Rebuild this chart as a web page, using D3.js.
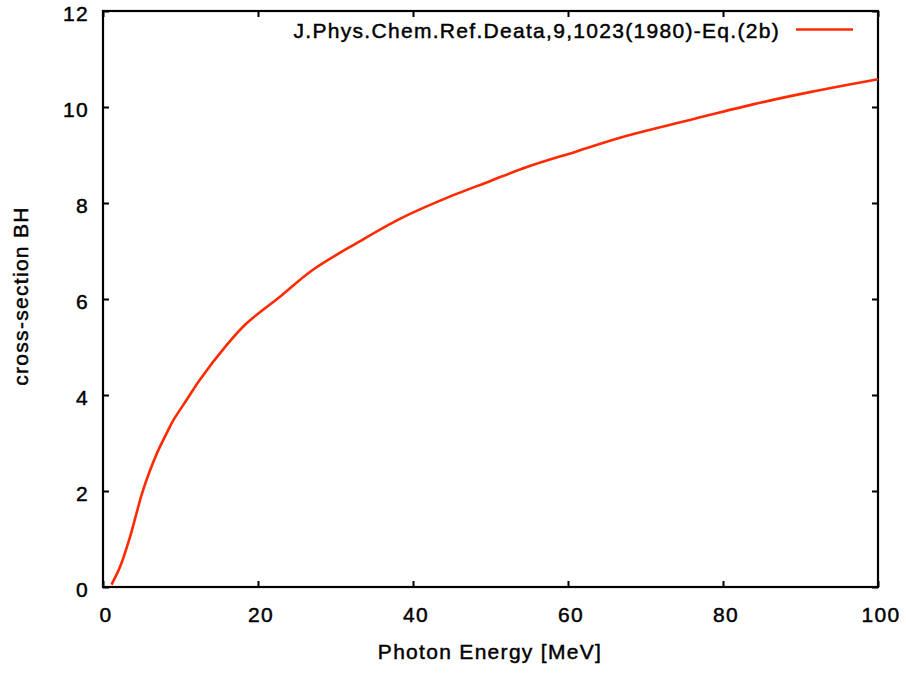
<!DOCTYPE html>
<html>
<head>
<meta charset="utf-8">
<script src="https://cdn.jsdelivr.net/npm/d3@7"></script>
<style>
  html, body { margin: 0; padding: 0; background: #fff; }
  svg { display: block; }
  text { font-family: "Liberation Sans", Arial, sans-serif; fill: #000; letter-spacing: 1.3px; }
</style>
</head>
<body>
<svg id="chart" width="906" height="673"></svg>
<script>
// Data
const energy = [1.1, 2.2, 3.5, 4.2, 5, 6, 7, 8.2, 9.1, 10.8, 12.5, 16, 18.5, 23, 27, 33, 38.3, 43.5, 50, 54.7, 61, 67.6, 76.2, 84, 91.2, 100];
const crossSection = [0.05, 0.42, 1.05, 1.46, 1.93, 2.4, 2.8, 3.2, 3.48, 3.9, 4.32, 5.05, 5.49, 6.07, 6.6, 7.19, 7.67, 8.05, 8.46, 8.75, 9.07, 9.4, 9.75, 10.06, 10.31, 10.58];
const xTicks = [0, 20, 40, 60, 80, 100];
const yTicks = [0, 2, 4, 6, 8, 10, 12];
const seriesName = "J.Phys.Chem.Ref.Deata,9,1023(1980)-Eq.(2b)";
const xTitle = "Photon Energy [MeV]";
const yTitle = "cross-section BH";

(function () {
const svg = d3.select("#chart");
const mL = 103, mR = 878, mT = 11, mB = 587;
const lineColor = "#ff2a00";

const x = d3.scaleLinear().domain([0, 100]).range([mL, mR]);
const y = d3.scaleLinear().domain([0, 12]).range([mB, mT]);

const tickLen = 6;
const fontSize = 21;
const textStroke = 0.45;

const axB = d3.axisBottom(x).tickValues(xTicks).tickSize(-tickLen).tickPadding(20);
const axT = d3.axisTop(x).tickValues(xTicks).tickSize(-tickLen).tickFormat("");
const axL = d3.axisLeft(y).tickValues(yTicks).tickSize(-tickLen).tickPadding(14);
const axR = d3.axisRight(y).tickValues(yTicks).tickSize(-tickLen).tickFormat("");

function style(g) {
  g.select(".domain").remove();
  g.selectAll(".tick line").attr("stroke", "#000").attr("stroke-width", 2);
  g.selectAll(".tick text")
    .style("font-family", '"Liberation Sans", Arial, sans-serif')
    .style("font-size", fontSize + "px")
    .attr("fill", "#000")
    .attr("stroke", "#000").attr("stroke-width", textStroke);
}
const gB = svg.append("g").attr("transform", `translate(0,${mB})`).call(axB).call(style);
gB.selectAll(".tick text").attr("dx", "2.5");
svg.append("g").attr("transform", `translate(0,${mT})`).call(axT).call(style);
const gL = svg.append("g").attr("transform", `translate(${mL},0)`).call(axL).call(style);
gL.selectAll(".tick text").attr("dy", "0.45em");
svg.append("g").attr("transform", `translate(${mR},0)`).call(axR).call(style);

svg.append("rect")
  .attr("x", mL).attr("y", mT)
  .attr("width", mR - mL).attr("height", mB - mT)
  .attr("fill", "none").attr("stroke", "#000").attr("stroke-width", 2.2);

const data = energy.map((e, i) => ({ e, v: crossSection[i] }));
const line = d3.line().x(d => x(d.e)).y(d => y(d.v)).curve(d3.curveCatmullRom.alpha(0.5));
svg.append("path").datum(data)
  .attr("d", line)
  .attr("fill", "none")
  .attr("stroke", lineColor)
  .attr("stroke-width", 2.6)
  .attr("stroke-linejoin", "round");

svg.append("text")
  .attr("x", 780).attr("y", 38)
  .attr("text-anchor", "end")
  .style("font-size", fontSize + "px")
  .attr("stroke", "#000").attr("stroke-width", textStroke)
  .text(seriesName);
svg.append("line")
  .attr("x1", 796).attr("x2", 853).attr("y1", 29.5).attr("y2", 29.5)
  .attr("stroke", lineColor).attr("stroke-width", 2.6);

svg.append("text")
  .attr("x", 490).attr("y", 659)
  .attr("text-anchor", "middle")
  .style("font-size", fontSize + "px")
  .attr("stroke", "#000").attr("stroke-width", textStroke)
  .text(xTitle);
svg.append("text")
  .attr("transform", `translate(28,296) rotate(-90)`)
  .attr("text-anchor", "middle")
  .style("font-size", fontSize + "px")
  .attr("stroke", "#000").attr("stroke-width", textStroke)
  .text(yTitle);
})();
</script>
</body>
</html>
